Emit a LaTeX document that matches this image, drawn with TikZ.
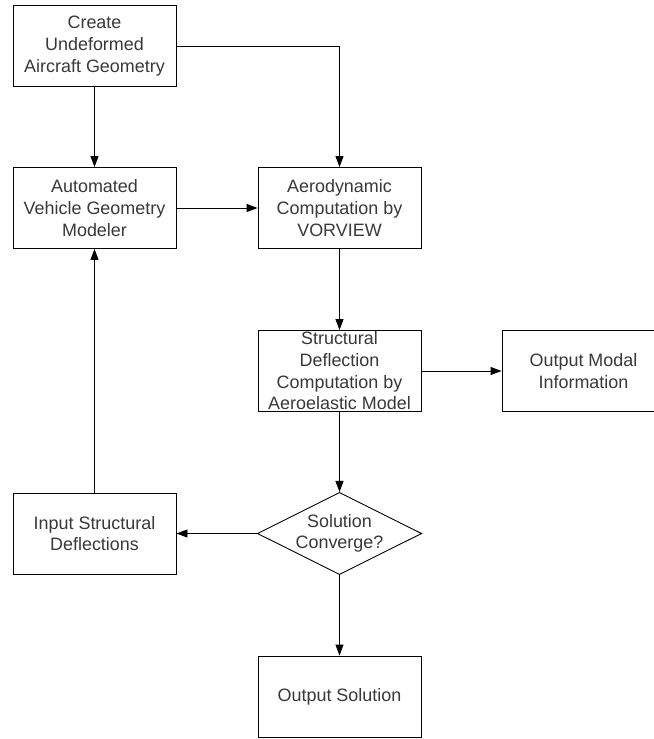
\documentclass[tikz,border=0pt]{standalone}
\usepackage{fontspec}
\setmainfont{Liberation Sans}
\usetikzlibrary{arrows.meta,shapes.geometric}
\begin{document}
\begin{tikzpicture}[x=1bp,y=-1bp,
  box/.style={draw,line width=0.9bp,minimum width=163bp,minimum height=81bp,inner sep=0pt,align=center,
    font=\fontsize{18}{21.7}\selectfont,text=black!78},
  dec/.style={draw,diamond,line width=0.9bp,minimum width=163bp,minimum height=81bp,inner sep=0pt,align=center,
    font=\fontsize{18}{21.7}\selectfont,text=black!78,aspect=2},
  conn/.style={line width=0.9bp,-{Triangle[length=11bp,width=8bp]}}]
\useasboundingbox (0,0) rectangle (654,739);
\node[box] (create) at (94.5,46) {Create\\Undeformed\\Aircraft Geometry};
\node[box] (avgm) at (94.5,208) {Automated\\Vehicle Geometry\\Modeler};
\node[box] (aero) at (339.5,208) {Aerodynamic\\Computation by\\VORVIEW};
\node[box] (struct) at (339.5,371) {Structural\\Deflection\\Computation by\\Aeroelastic Model};
\node[box] (modal) at (583.5,371) {Output Modal\\Information};
\node[dec] (conv) at (339.5,533.5) {Solution\\Converge?};
\node[box] (input) at (94.5,533.5) {Input Structural\\Deflections};
\node[box] (out) at (339.5,696.5) {Output Solution};
\draw[conn] (create) -- (avgm);
\draw[conn] (create.east) -| (aero.north);
\draw[conn] (avgm) -- (aero);
\draw[conn] (aero) -- (struct);
\draw[conn] (struct) -- (modal);
\draw[conn] (struct) -- (conv);
\draw[conn] (conv) -- (input);
\draw[conn] (conv) -- (out);
\draw[conn] (input) -- (avgm);
\end{tikzpicture}
\end{document}
